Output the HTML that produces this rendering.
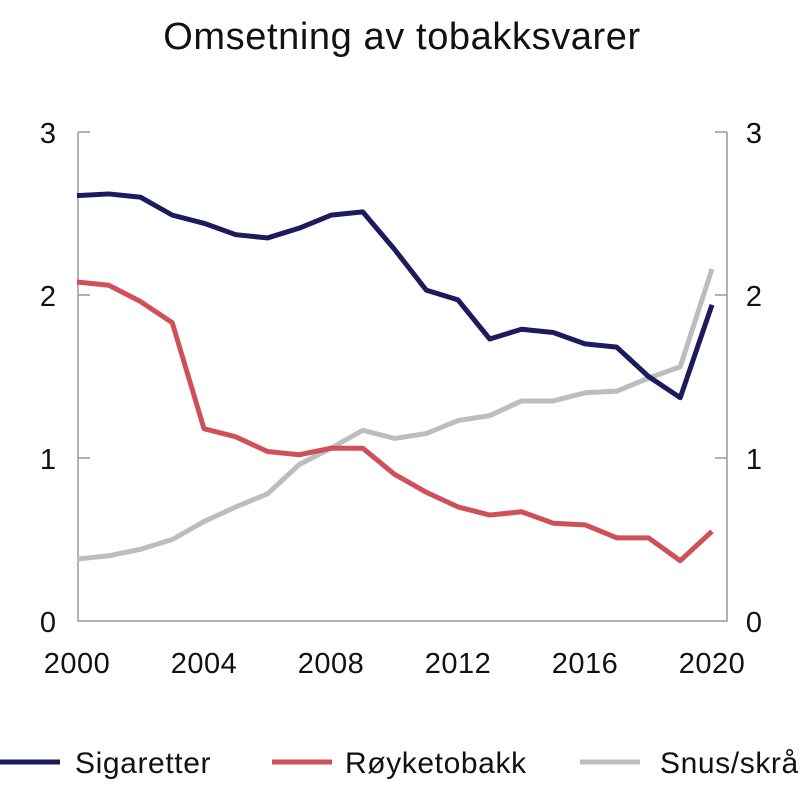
<!DOCTYPE html>
<html><head><meta charset="utf-8"><style>
body{margin:0;background:#fff;font-family:"Liberation Sans","DejaVu Sans",sans-serif;}
</style></head><body>
<svg width="800" height="795" xmlns="http://www.w3.org/2000/svg">
<text x="402" y="49" text-anchor="middle" font-size="38" letter-spacing="0.6" fill="#111">Omsetning av tobakksvarer</text>
<g id="axes"></g>
<g id="series"></g>
<g id="legend"></g>
</svg>
<script>
const years=[2000,2001,2002,2003,2004,2005,2006,2007,2008,2009,2010,2011,2012,2013,2014,2015,2016,2017,2018,2019,2020];
const sigaretter=[2.61,2.62,2.60,2.49,2.44,2.37,2.35,2.41,2.49,2.51,2.28,2.03,1.97,1.73,1.79,1.77,1.70,1.68,1.50,1.37,1.94];
const royketobakk=[2.08,2.06,1.96,1.83,1.18,1.13,1.04,1.02,1.06,1.06,0.90,0.79,0.70,0.65,0.67,0.60,0.59,0.51,0.51,0.37,0.55];
const snus=[0.38,0.40,0.44,0.50,0.61,0.70,0.78,0.96,1.06,1.17,1.12,1.15,1.23,1.26,1.35,1.35,1.40,1.41,1.49,1.56,2.16];
const yTicks=[0,1,2,3];
const xTicks=[2000,2004,2008,2012,2016,2020];
const NS="http://www.w3.org/2000/svg";
function X(y){return 77+(y-2000)*31.75;}
function Y(v){return 621-v*163;}
function mk(t,a,p){const e=document.createElementNS(NS,t);for(const k in a)e.setAttribute(k,a[k]);p.appendChild(e);return e;}
const ax=document.getElementById('axes');
let l=mk('path',{d:'M78,'+Y(3)+' V621 H727 V'+Y(3),fill:'none',stroke:'#999','stroke-width':1.5},ax);


yTicks.forEach(v=>{
  if(v>0){
    let t1=mk('line',{x1:78,x2:90,y1:Y(v),y2:Y(v),stroke:'#999','stroke-width':1.5},ax);
    
    
    let t2=mk('line',{x1:715,x2:727,y1:Y(v),y2:Y(v),stroke:'#999','stroke-width':1.5},ax);
    
    
  }
  let a=mk('text',{x:48,y:Y(v)+11,'text-anchor':'middle','font-size':29,fill:'#111'},ax);a.textContent=v;
  
  
  let b=mk('text',{x:754,y:Y(v)+11,'text-anchor':'middle','font-size':29,fill:'#111'},ax);b.textContent=v;
  
  
});
xTicks.forEach(v=>{
  let a=mk('text',{x:X(v),y:673,'text-anchor':'middle','font-size':29,'letter-spacing':0.5,fill:'#111'},ax);a.textContent=v;
  
  
});
const sg=document.getElementById('series');
function line(vals,color,name){
  const p=mk('polyline',{points:vals.map((v,i)=>X(years[i])+','+Y(v)).join(' '),fill:'none',stroke:color,'stroke-width':5,'stroke-linejoin':'round'},sg);
  
  
}
line(snus,'#bdbdbd','line-snus');
line(royketobakk,'#d0505a','line-royketobakk');
line(sigaretter,'#1b1b5e','line-sigaretter');
const lg=document.getElementById('legend');
[['Sigaretter','#1b1b5e',0,75],['Røyketobakk','#d0505a',272,345],['Snus/skrå','#bdbdbd',580,660]].forEach(d=>{
  let s=mk('line',{x1:d[2],x2:d[2]+60,y1:762,y2:762,stroke:d[1],'stroke-width':5},lg);
  
  
  let t=mk('text',{x:d[3],y:773,'font-size':30,'letter-spacing':0.6,fill:'#111'},lg);t.textContent=d[0];
  
  
});
</script>
</body></html>
